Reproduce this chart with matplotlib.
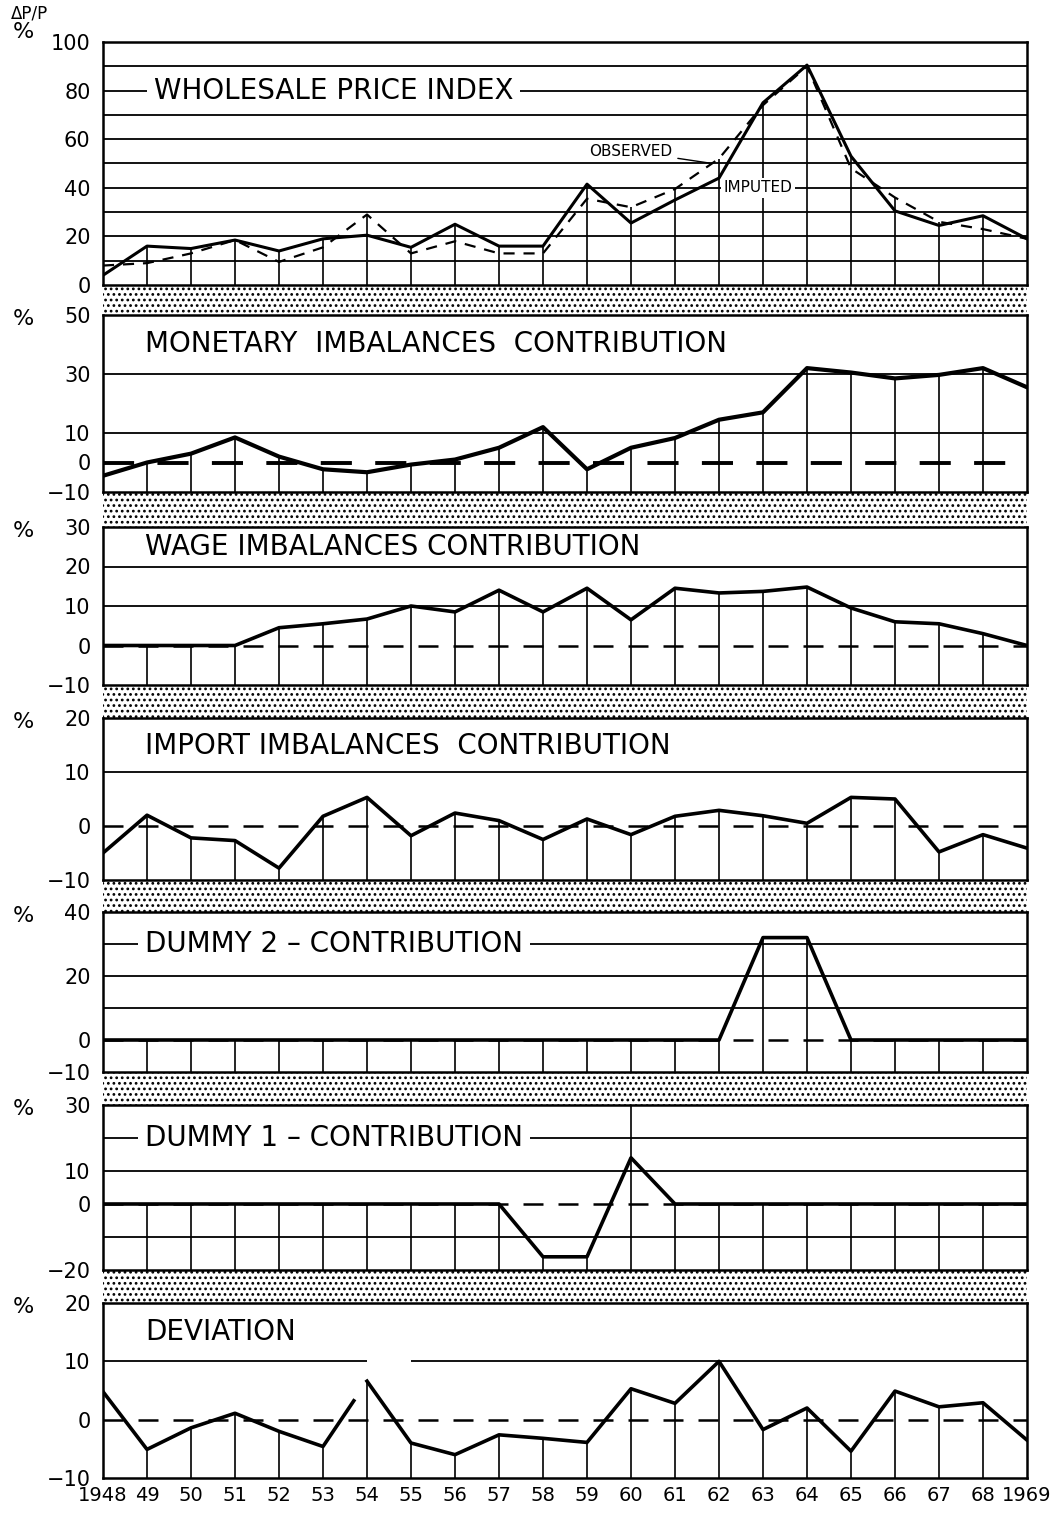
import matplotlib
matplotlib.use('Agg')
import matplotlib.pyplot as plt
from matplotlib.patches import Rectangle
import numpy as np

years = list(range(1948, 1970))
year_labels = ['1948'] + [str(y)[2:] for y in range(1949, 1969)] + ['1969']

wpi_imputed = [4, 16, 15, 18.5, 14, 19, 20.5, 15.5, 25, 16, 16,
               41.5, 25.5, 35, 44, 75, 90.5, 53, 30.5, 24.5, 28.5, 19]
wpi_observed = [8, 9, 13, 18.5, 9.5, 15.5, 29, 13, 18, 13, 13,
                35.5, 32, 39.5, 52, 74, 90, 48, 36, 26, 23, 19]
monetary = [-4.5, 0, 3, 8.5, 2, -2.3, -3.3, -0.7, 1, 5, 12,
            -2.3, 5, 8.3, 14.5, 17, 32, 30.5, 28.5, 29.7, 32, 25.5]
wage = [0, 0, 0, 0, 4.5, 5.5, 6.7, 10, 8.5, 14, 8.5,
        14.5, 6.5, 14.5, 13.3, 13.7, 14.8, 9.5, 6, 5.5, 3, 0]
imports = [-5, 2, -2.2, -2.7, -7.8, 1.8, 5.3, -1.8, 2.4, 1, -2.5,
           1.3, -1.6, 1.8, 2.9, 1.9, 0.5, 5.3, 5, -4.8, -1.6, -4.1]
dummy2 = [0, 0, 0, 0, 0, 0, 0, 0, 0, 0, 0,
          0, 0, 0, 0, 32, 32, 0, 0, 0, 0, 0]
dummy1 = [0, 0, 0, 0, 0, 0, 0, 0, 0, 0, -16,
          -16, 14, 0, 0, 0, 0, 0, 0, 0, 0, 0]
deviation = [4.8, -5.1, -1.4, 1.1, -2, -4.6, 6.6, -4, -6, -2.6, -3.2,
             -3.9, 5.3, 2.8, 10, -1.7, 2, -5.4, 4.9, 2.2, 2.9, -3.5]

W, H = 1053, 1515
X0, X1 = 103, 1027
fig = plt.figure(figsize=(W / 100, H / 100), dpi=100)
plt.rcParams['hatch.linewidth'] = 1.2


def box(top, bottom):
    return [X0 / W, 1 - bottom / H, (X1 - X0) / W, (bottom - top) / H]


def label(v):
    return str(v).replace('-', '\u2212')


def panel(top, bottom, ylim, ticks, grid, title, title_y, on_line=False, pct=True):
    ax = fig.add_axes(box(top, bottom))
    ax.set_xlim(1948, 1969)
    ax.set_ylim(*ylim)
    ax.set_yticks(ticks)
    ax.set_yticklabels([label(t) for t in ticks])
    ax.set_xticks([])
    ax.tick_params(axis='y', length=0, pad=9, labelsize=15)
    for s in ax.spines.values():
        s.set_linewidth(1.8)
    for g in grid:
        ax.axhline(g, color='k', lw=1.3, zorder=1)
    t = ax.text(1948.95, title_y, title, fontsize=20, va='center', ha='left', zorder=5)
    if on_line:
        t.set_bbox(dict(facecolor='white', edgecolor='none', pad=5))
    if pct:
        fig.text(0.012, 1 - (top + 4) / H, '%', fontsize=16, va='center')
    return ax


def band(top, bottom):
    ax = fig.add_axes(box(top, bottom))
    ax.set_axis_off()
    ax.add_patch(Rectangle((0, 0), 1, 1, transform=ax.transAxes, fill=False,
                           hatch='...', lw=0, edgecolor='black'))


def curve(ax, values, lw=2.6):
    ax.plot(years, values, color='k', lw=lw, solid_joinstyle='round', zorder=4)


def drops(ax, values, base):
    ax.vlines(years[1:-1], base, values[1:-1], color='k', lw=1.2, zorder=2)


def zero(ax, lw=1.8):
    ax.axhline(0, color='k', lw=lw, dashes=(8, 6), zorder=3)


# wholesale price index
ax1 = panel(42, 285, (0, 100), [0, 20, 40, 60, 80, 100],
            [10, 20, 30, 40, 50, 60, 70, 80, 90], 'WHOLESALE PRICE INDEX', 80,
            on_line=True, pct=False)
ax1.texts[0].set_x(1949.15)
drops(ax1, np.maximum(wpi_imputed, wpi_observed), 0)
curve(ax1, wpi_imputed, lw=2.2)
ax1.plot(years, wpi_observed, color='k', lw=1.6, dashes=(5, 4), zorder=4)
ax1.annotate('OBSERVED', xy=(1961.85, 50), xytext=(1959.05, 55), fontsize=11,
             va='center', ha='left', arrowprops=dict(arrowstyle='-', lw=1))
ax1.text(1962.1, 40, 'IMPUTED', fontsize=11, va='center', ha='left', zorder=5,
         bbox=dict(facecolor='white', edgecolor='none', pad=2))
fig.text(0.010, 1 - 14 / H, '\u0394P/P', fontsize=12, va='center')
fig.text(0.012, 1 - 32 / H, '%', fontsize=16, va='center')
band(285, 315)

# monetary
ax2 = panel(315, 492, (-10, 50), [-10, 0, 10, 30, 50], [10, 30],
            'MONETARY  IMBALANCES  CONTRIBUTION', 40)
zero(ax2, lw=2.8)
drops(ax2, monetary, -10)
curve(ax2, monetary, lw=3)
band(492, 527)

# wage
ax3 = panel(527, 685, (-10, 30), [-10, 0, 10, 20, 30], [10, 20],
            'WAGE IMBALANCES CONTRIBUTION', 25)
zero(ax3)
drops(ax3, wage, -10)
curve(ax3, wage)
band(685, 718)

# import
ax4 = panel(718, 880, (-10, 20), [-10, 0, 10, 20], [10],
            'IMPORT IMBALANCES  CONTRIBUTION', 14.8)
zero(ax4)
drops(ax4, imports, -10)
curve(ax4, imports)
band(880, 912)

# dummy 2
ax5 = panel(912, 1072, (-10, 40), [-10, 0, 20, 40], [10, 20, 30],
            'DUMMY 2 \u2013 CONTRIBUTION', 30, on_line=True)
zero(ax5)
drops(ax5, dummy2, -10)
curve(ax5, dummy2)
band(1072, 1105)

# dummy 1
ax6 = panel(1105, 1270, (-20, 30), [-20, 0, 10, 30], [-10, 10, 20],
            'DUMMY 1 \u2013 CONTRIBUTION', 20, on_line=True)
zero(ax6)
drops(ax6, dummy1, -20)
ax6.vlines(1960, dummy1[years.index(1960)], 30, color='k', lw=1.2, zorder=2)
curve(ax6, dummy1)
band(1270, 1303)

# deviation
ax7 = panel(1303, 1478, (-10, 20), [-10, 0, 10, 20], [],
            'DEVIATION', 15)
ax7.hlines([10, 10], [1948, 1955], [1954, 1969], color='k', lw=1.3, zorder=1)
zero(ax7)
drops(ax7, deviation, -10)
dev_x = np.array(years, dtype=float)
dev_y = np.array(deviation)
brk = 1953.7  # the pen was lifted just before 1954
ax7.plot(list(dev_x[:6]) + [brk], list(dev_y[:6]) + [np.interp(brk, dev_x, dev_y)],
         color='k', lw=2.6, zorder=4)
ax7.plot(dev_x[6:], dev_y[6:], color='k', lw=2.6, zorder=4)
ax7.set_xticks(years)
ax7.set_xticklabels(year_labels)
ax7.tick_params(axis='x', length=0, pad=6, labelsize=14)

fig.savefig('out.png', dpi=100)
plt.close(fig)
